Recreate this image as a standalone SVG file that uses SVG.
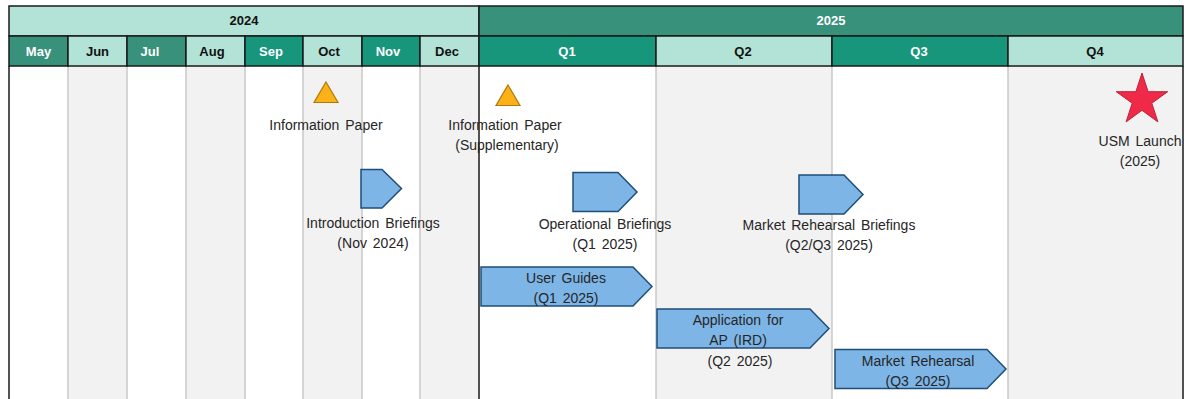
<svg xmlns="http://www.w3.org/2000/svg" width="1189" height="399" viewBox="0 0 1189 399">
<style>
.hdrL{fill:#b3e3d6;stroke:#1a1a1a;stroke-width:1.5}
.hdrD{fill:#38917b;stroke:#1a1a1a;stroke-width:1.5}
.hdrS{fill:#17967c;stroke:#1a1a1a;stroke-width:1.5}
.ht{font-family:"Liberation Sans",Arial,sans-serif;font-size:13px;font-weight:bold;text-anchor:middle}
.hw{fill:#ffffff}
.hb{fill:#111111}
.colW{fill:#ffffff}
.colG{fill:#f2f2f2}
.sep{stroke:#c8c8c8;stroke-width:1.5}
.sepB{stroke:#1a1a1a;stroke-width:1.5}
.lbl{font-family:"Liberation Sans",Arial,sans-serif;font-size:14px;fill:#262626;text-anchor:middle;word-spacing:2px}
.tri{fill:#fbb118;stroke:#b07a0a;stroke-width:1.2}
.pent{fill:#7db5e6;stroke:#1f4e79;stroke-width:1.5}
.star{fill:#ee2a48;stroke:#c0203a;stroke-width:1}
</style>
<rect x="0" y="0" width="1189" height="399" fill="#ffffff"/>
<g id="body-columns">
<rect class="colW" x="9" y="66" width="59" height="333"/>
<rect class="colG" x="68" y="66" width="59" height="333"/>
<rect class="colW" x="127" y="66" width="59" height="333"/>
<rect class="colG" x="186" y="66" width="59" height="333"/>
<rect class="colW" x="245" y="66" width="58" height="333"/>
<rect class="colG" x="303" y="66" width="59" height="333"/>
<rect class="colW" x="362" y="66" width="58" height="333"/>
<rect class="colG" x="420" y="66" width="59" height="333"/>
<rect class="colW" x="479" y="66" width="177" height="333"/>
<rect class="colG" x="656" y="66" width="176" height="333"/>
<rect class="colW" x="832" y="66" width="176" height="333"/>
<rect class="colG" x="1008" y="66" width="175" height="333"/>
<line class="sep" x1="68" y1="66" x2="68" y2="399"/>
<line class="sep" x1="127" y1="66" x2="127" y2="399"/>
<line class="sep" x1="186" y1="66" x2="186" y2="399"/>
<line class="sep" x1="245" y1="66" x2="245" y2="399"/>
<line class="sep" x1="303" y1="66" x2="303" y2="399"/>
<line class="sep" x1="362" y1="66" x2="362" y2="399"/>
<line class="sep" x1="420" y1="66" x2="420" y2="399"/>
<line class="sep" x1="656" y1="66" x2="656" y2="399"/>
<line class="sep" x1="832" y1="66" x2="832" y2="399"/>
<line class="sep" x1="1008" y1="66" x2="1008" y2="399"/>
<line class="sepB" x1="9" y1="66" x2="9" y2="399"/>
<line class="sepB" x1="479" y1="66" x2="479" y2="399"/>
<line class="sepB" x1="1183" y1="66" x2="1183" y2="399"/>
</g>
<g id="header">
<rect class="hdrL" x="9" y="6" width="470" height="30"/>
<text class="ht hb" x="244" y="25">2024</text>
<rect class="hdrD" x="479" y="6" width="704" height="30"/>
<text class="ht hw" x="831" y="25">2025</text>
<rect class="hdrD" x="9" y="36" width="59" height="30"/>
<text class="ht hw" x="38.5" y="56">May</text>
<rect class="hdrL" x="68" y="36" width="59" height="30"/>
<text class="ht hb" x="97.5" y="56">Jun</text>
<rect class="hdrD" x="127" y="36" width="59" height="30"/>
<text class="ht hw" x="150" y="56">Jul</text>
<rect class="hdrL" x="186" y="36" width="59" height="30"/>
<text class="ht hb" x="212" y="56">Aug</text>
<rect class="hdrS" x="245" y="36" width="58" height="30"/>
<text class="ht hw" x="271" y="56">Sep</text>
<rect class="hdrL" x="303" y="36" width="59" height="30"/>
<text class="ht hb" x="329" y="56">Oct</text>
<rect class="hdrS" x="362" y="36" width="58" height="30"/>
<text class="ht hw" x="388" y="56">Nov</text>
<rect class="hdrL" x="420" y="36" width="59" height="30"/>
<text class="ht hb" x="447" y="56">Dec</text>
<rect class="hdrS" x="479" y="36" width="177" height="30"/>
<text class="ht hw" x="567" y="56">Q1</text>
<rect class="hdrL" x="656" y="36" width="176" height="30"/>
<text class="ht hb" x="743" y="56">Q2</text>
<rect class="hdrS" x="832" y="36" width="176" height="30"/>
<text class="ht hw" x="919" y="56">Q3</text>
<rect class="hdrL" x="1008" y="36" width="175" height="30"/>
<text class="ht hb" x="1095" y="56">Q4</text>
</g>
<g id="info-paper">
<polygon class="tri" points="326,82 338,102.5 314,102.5"/>
<text class="lbl" x="326" y="130">Information Paper</text>
</g>
<g id="info-paper-supp">
<polygon class="tri" points="508,85 520,105.5 496,105.5"/>
<text class="lbl" x="505" y="130">Information Paper</text>
<text class="lbl" x="507" y="150">(Supplementary)</text>
</g>
<g id="intro-briefings">
<polygon class="pent" points="361,169.5 382,169.5 401.5,188.5 382,208 361,208"/>
<text class="lbl" x="373" y="228">Introduction Briefings</text>
<text class="lbl" x="373" y="248">(Nov 2024)</text>
</g>
<g id="operational-briefings">
<polygon class="pent" points="573,172.5 618,172.5 637,192 618,211.5 573,211.5"/>
<text class="lbl" x="605" y="229">Operational Briefings</text>
<text class="lbl" x="605" y="249">(Q1 2025)</text>
</g>
<g id="market-rehearsal-briefings">
<polygon class="pent" points="799,175 844,175 863,194.5 844,214 799,214"/>
<text class="lbl" x="829" y="230">Market Rehearsal Briefings</text>
<text class="lbl" x="829" y="250">(Q2/Q3 2025)</text>
</g>
<g id="usm-launch">
<polygon class="star" points="1142,73 1148.1,91.7 1167.7,91.7 1151.8,103.2 1157.9,121.9 1142,110.3 1126.1,121.9 1132.2,103.2 1116.3,91.7 1135.9,91.7"/>
<text class="lbl" x="1140" y="146">USM Launch</text>
<text class="lbl" x="1140" y="166">(2025)</text>
</g>
<g id="user-guides">
<polygon class="pent" points="481,267 633,267 652,286.5 633,306 481,306"/>
<text class="lbl" x="566" y="283">User Guides</text>
<text class="lbl" x="566" y="303">(Q1 2025)</text>
</g>
<g id="application-ap">
<polygon class="pent" points="657,309 810,309 829,328.5 810,348 657,348"/>
<text class="lbl" x="738" y="325">Application for</text>
<text class="lbl" x="738" y="345">AP (IRD)</text>
<text class="lbl" x="740" y="366">(Q2 2025)</text>
</g>
<g id="market-rehearsal">
<polygon class="pent" points="835,349.5 987,349.5 1006,369 987,388.5 835,388.5"/>
<text class="lbl" x="918" y="366">Market Rehearsal</text>
<text class="lbl" x="918" y="386">(Q3 2025)</text>
</g>
<g id="connectors"></g>
</svg>
